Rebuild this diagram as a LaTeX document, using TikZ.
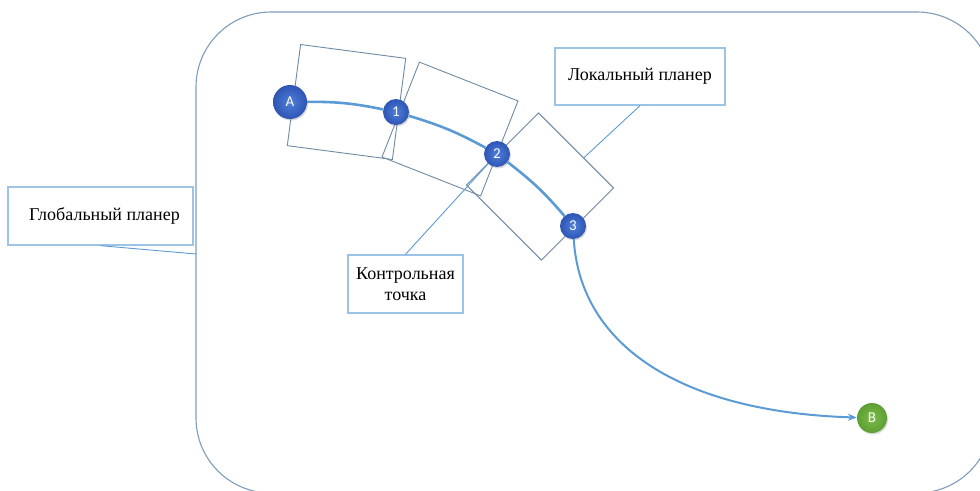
\documentclass[tikz,border=0pt]{standalone}
\usepackage{fontspec}
\setmainfont{Liberation Serif}
\newfontfamily\dotfont{Carlito}
\usetikzlibrary{arrows.meta,shadows,calc}
\definecolor{frameblue}{HTML}{7F9DBB}
\definecolor{tilegray}{HTML}{6F8AA3}
\definecolor{calloutblue}{HTML}{9DC3E6}
\definecolor{routeblue}{HTML}{5B9BD5}
\definecolor{wpinner}{HTML}{4F7FDB}
\definecolor{wpouter}{HTML}{2E55B3}
\definecolor{goalinner}{HTML}{7BBE4A}
\definecolor{goalouter}{HTML}{5E9E33}

\begin{document}
\begin{tikzpicture}[x=1pt, y=-1pt,
    frame/.style={draw=frameblue, line width=1.1pt},
    tile/.style={draw=tilegray, line width=0.9pt, minimum width=106pt, minimum height=102pt, inner sep=0pt},
    callout/.style={draw=calloutblue, line width=1.3pt, fill=white, inner sep=0pt,
        font=\fontsize{18}{21}\selectfont, align=center},
    pointer/.style={draw=routeblue, line width=0.9pt},
    route/.style={draw=routeblue, line width=2.6pt},
    wp/.style={circle, inner sep=0pt, minimum size=26pt, text=white,
        font=\dotfont\fontsize{15}{15}\selectfont, inner color=wpinner, outer color=wpouter,
        drop shadow={opacity=0.3, shadow xshift=1pt, shadow yshift=-1.5pt}},
    goal/.style={wp, minimum size=30pt, inner color=goalinner, outer color=goalouter}
]
\useasboundingbox (0,0) rectangle (980,490);
\clip (0,0) rectangle (980,490);
% ---------------- global planner area ----------------
\draw[frame, rounded corners=75pt] (196,12) rectangle (992,493);
\coordinate (edge) at (196,254);
% ---------------- local planner windows ----------------
\node[tile, rotate=-7.5] (t1) at (346.5,102) {};
\node[tile, rotate=-21.5] (t2) at (450,129) {};
\node[tile, rotate=-45] (t3) at (540,186.5) {};
% ---------------- waypoints ----------------
\node[wp, minimum size=34pt] (nA) at (290,102) {A};
\node[wp] (n1) at (396,112) {1};
\node[wp] (n2) at (497,154) {2};
\node[wp] (n3) at (573,226) {3};
\node[goal] (nB) at (872,418) {B};
\draw[route] (nA) to[bend left=6] (n1)
             (n1) to[bend left=6] (n2)
             (n2) to[bend left=6] (n3);
\draw[route, line width=2pt, -{Stealth[length=9pt, width=7pt]}]
    (n3) .. controls (580,345) and (680,412) .. (nB);
% ---------------- callouts ----------------
\node[callout, minimum width=185pt, minimum height=58pt] (glob) at (100.5,216) {\hspace*{8pt}Глобальный планер};
\node[callout, minimum width=115pt, minimum height=58pt] (ctrl) at (405.5,284) {Контрольная\\точка};
\node[callout, minimum width=170pt, minimum height=57pt] (loc) at (640,76.5) {Локальный планер};
\draw[pointer] (glob.south) -- (edge);
\draw[pointer] (ctrl.north) -- (n2);
\draw[pointer] (loc.south) -- ($(t3.north west)!0.6!(t3.north east)$);
\end{tikzpicture}
\end{document}
